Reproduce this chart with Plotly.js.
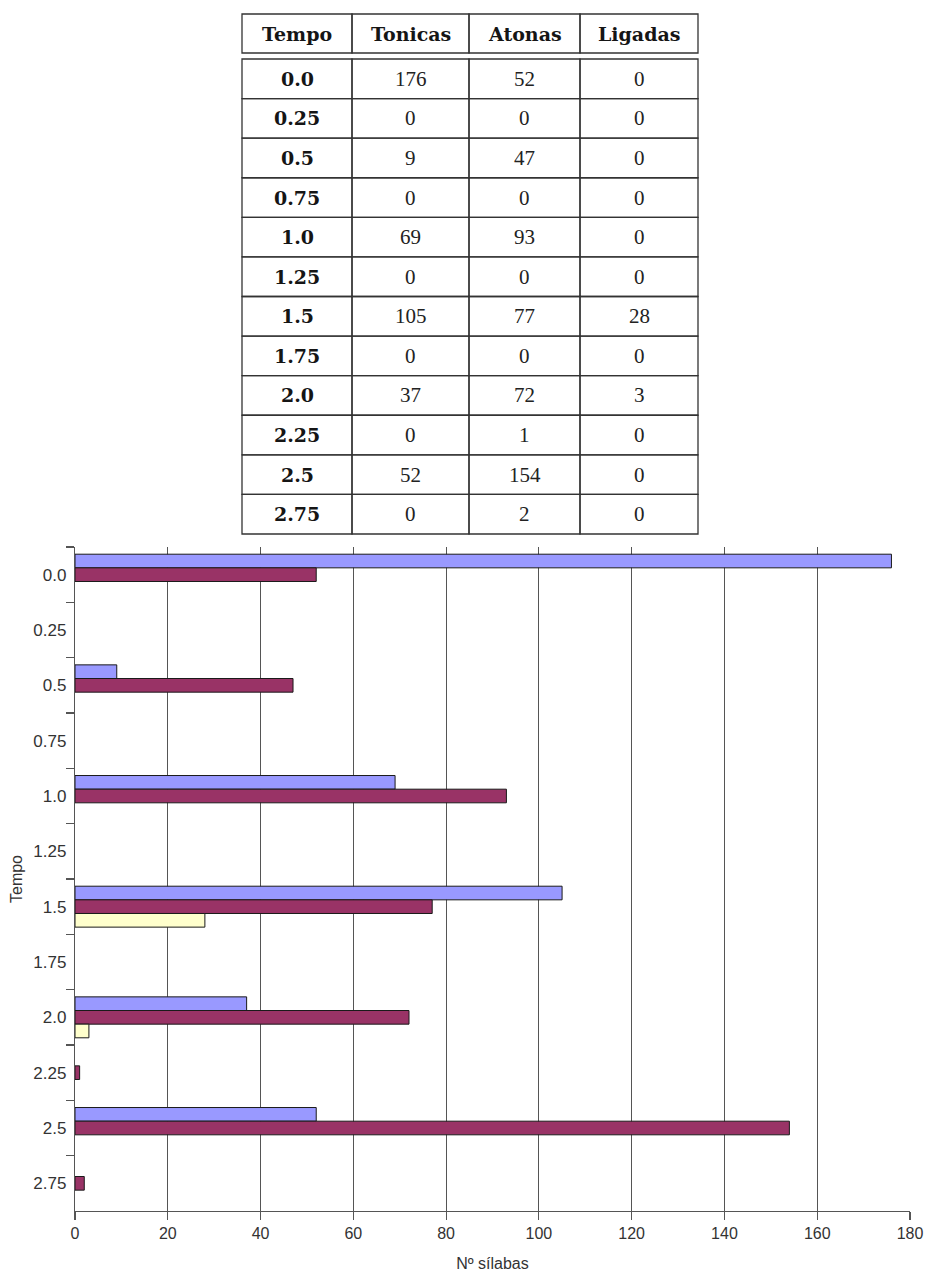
<!DOCTYPE html>
<html>
<head>
<meta charset="utf-8">
<script src="https://cdn.plot.ly/plotly-3.0.1.min.js"></script>
<style>
  html, body { margin: 0; padding: 0; background: #fff; }
  #chart { width: 929px; height: 1274px; }
</style>
</head>
<body>
<div id="chart"></div>
<script>
// Syllable counts per beat position
const tempos   = ["0.0", "0.25", "0.5", "0.75", "1.0", "1.25", "1.5", "1.75", "2.0", "2.25", "2.5", "2.75"];
const tonicas  = [176, 0, 9, 0, 69, 0, 105, 0, 37, 0, 52, 0];
const atonas   = [52, 0, 47, 0, 93, 0, 77, 0, 72, 1, 154, 2];
const ligadas  = [0, 0, 0, 0, 0, 0, 28, 0, 3, 0, 0, 0];
const headers  = ["Tempo", "Tonicas", "Atonas", "Ligadas"];

const W = 929, H = 1274;
const M = { l: 75, r: 19, t: 547, b: 63 };
const plotW = W - M.l - M.r, plotH = H - M.t - M.b;
// pixel -> paper helpers for the table above the plot
const px = x => (x - M.l) / plotW;
const py = y => (H - M.b - y) / plotH;

// empty bars get no outline
const outline = vals => ({ color: "#1a1a1a", width: vals.map(v => (v === 0 ? 0 : 1)) });
const traces = [
  { name: "Tonicas", type: "bar", orientation: "h", y: tempos, x: tonicas,
    marker: { color: "#9999FF", line: outline(tonicas) } },
  { name: "Atonas", type: "bar", orientation: "h", y: tempos, x: atonas,
    marker: { color: "#993366", line: outline(atonas) } },
  { name: "Ligadas", type: "bar", orientation: "h", y: tempos, x: ligadas,
    marker: { color: "#FFFFCC", line: outline(ligadas) } }
];

// Table layout (pixel positions)
const colEdges = [242, 352, 469, 580, 698];
const headTop = 14, headBot = 53, bodyTop = 59, bodyBot = 534;
const rowH = (bodyBot - bodyTop) / tempos.length;
const tblLine = { color: "#333", width: 1.3 };

const shapes = [];
const annotations = [];
const rect = (x0, y0, x1, y1) => shapes.push({
  type: "rect", xref: "paper", yref: "paper",
  x0: px(x0), x1: px(x1), y0: py(y0), y1: py(y1), line: tblLine, layer: "above"
});

for (let c = 0; c < 4; c++) {
  rect(colEdges[c], headTop, colEdges[c + 1], headBot);
  annotations.push({
    xref: "paper", yref: "paper", x: px((colEdges[c] + colEdges[c + 1]) / 2),
    y: py((headTop + headBot) / 2), text: "<b>" + headers[c] + "</b>", showarrow: false,
    font: { family: "DejaVu Serif", size: 19, color: "#151515" }, xanchor: "center", yanchor: "middle"
  });
}
const cols = [tempos, tonicas, atonas, ligadas];
for (let r = 0; r < tempos.length; r++) {
  const y0 = bodyTop + r * rowH, y1 = y0 + rowH;
  for (let c = 0; c < 4; c++) {
    rect(colEdges[c], y0, colEdges[c + 1], y1);
    const bold = c === 0;
    annotations.push({
      xref: "paper", yref: "paper", x: px((colEdges[c] + colEdges[c + 1]) / 2),
      y: py((y0 + y1) / 2), text: bold ? "<b>" + cols[c][r] + "</b>" : String(cols[c][r]),
      showarrow: false,
      font: bold ? { family: "DejaVu Serif", size: 19, color: "#151515" }
                 : { family: "Liberation Serif", size: 21, color: "#222" },
      xanchor: "center", yanchor: "middle"
    });
  }
}

const layout = {
  width: W, height: H,
  margin: M,
  paper_bgcolor: "#fff", plot_bgcolor: "#fff",
  showlegend: false,
  barmode: "group",
  bargap: 0.26,
  bargroupgap: 0,
  font: { family: "Liberation Sans, Arial, sans-serif", size: 16, color: "#333" },
  xaxis: {
    range: [0, 180], dtick: 20, tick0: 0,
    showgrid: true, gridcolor: "#555", gridwidth: 1.2,
    zeroline: false,
    showline: true, linecolor: "#555", linewidth: 1.2,
    ticks: "outside", ticklen: 8, tickcolor: "#555", tickwidth: 1.2,
    tickfont: { size: 16, color: "#333" },
    title: { text: "Nº sílabas", font: { size: 16, color: "#333" }, standoff: 16 },
    fixedrange: true
  },
  yaxis: {
    type: "category", autorange: "reversed",
    showgrid: false, zeroline: false,
    showline: true, linecolor: "#555", linewidth: 1.2,
    ticks: "outside", tickson: "boundaries", ticklen: 8, tickcolor: "#555", tickwidth: 1.2,
    tickfont: { size: 17, color: "#333" },
    ticklabelstandoff: 4,
    title: { text: "Tempo", font: { size: 16, color: "#333" }, standoff: 6 },
    fixedrange: true
  },
  shapes: shapes,
  annotations: annotations
};

Plotly.newPlot("chart", traces, layout, { displayModeBar: false, staticPlot: true });
</script>
</body>
</html>
